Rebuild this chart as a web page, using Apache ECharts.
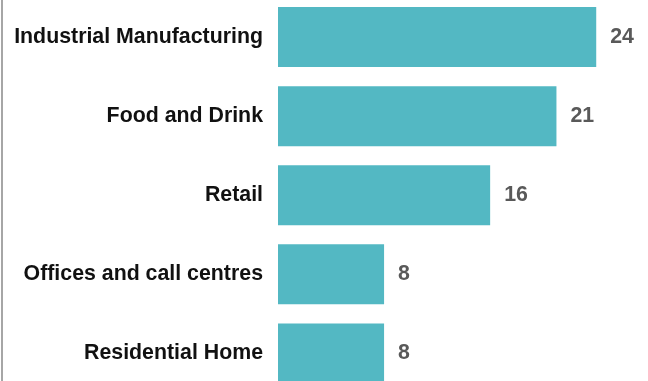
<!DOCTYPE html>
<html>
<head>
<meta charset="utf-8">
<script src="https://cdn.jsdelivr.net/npm/echarts@6/dist/echarts.min.js"></script>
<style>
  html, body { margin: 0; padding: 0; background: #ffffff; overflow: hidden; width: 648px; height: 381px; }
  #chart { position: absolute; left: 0; top: -3px; width: 648px; height: 396px; }
</style>
</head>
<body>
<div id="chart"></div>
<script>
// Sectors, listed top to bottom
const sectors = [
  'Industrial Manufacturing',
  'Food and Drink',
  'Retail',
  'Offices and call centres',
  'Residential Home'
];
// Count per sector
const counts = [24, 21, 16, 8, 8];

const chart = echarts.init(document.getElementById('chart'));

chart.setOption({
  animation: false,
  backgroundColor: '#ffffff',
  grid: { left: 278, right: 12, top: 0.5, bottom: 0, containLabel: false },
  xAxis: {
    type: 'value',
    min: 0,
    max: 27,
    show: false
  },
  yAxis: {
    type: 'category',
    data: sectors,
    inverse: true,
    axisLine: { show: false },
    axisTick: { show: false },
    splitLine: { show: false },
    axisLabel: {
      margin: 15,
      color: '#111111',
      fontFamily: 'Liberation Sans, Arial, sans-serif',
      fontWeight: 'bold',
      fontSize: 21.33
    }
  },
  series: [{
    type: 'bar',
    data: counts,
    barWidth: 60,
    itemStyle: { color: '#53b8c3' },
    label: {
      show: true,
      position: 'right',
      distance: 14,
      color: '#595959',
      fontFamily: 'Liberation Sans, Arial, sans-serif',
      fontWeight: 'bold',
      fontSize: 21.33
    }
  }],
  graphic: [{
    type: 'rect',
    left: 1,
    top: 0,
    shape: { width: 2, height: 396 },
    style: { fill: '#a6a6a6' }
  }]
});
</script>
</body>
</html>
